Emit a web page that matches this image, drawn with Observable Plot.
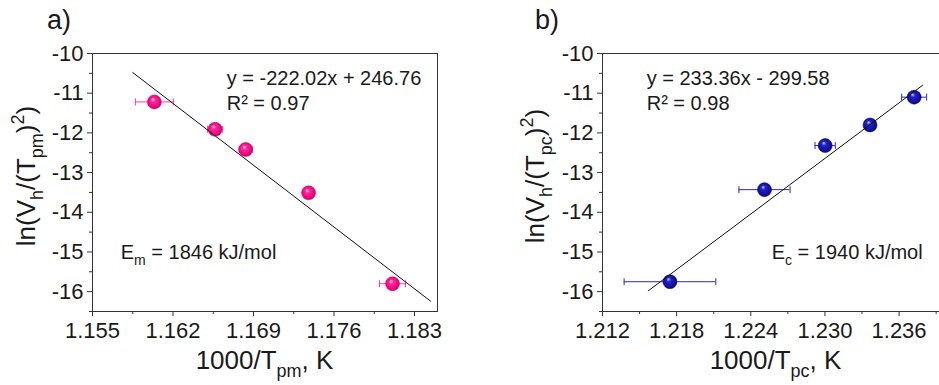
<!DOCTYPE html>
<html><head><meta charset="utf-8">
<script src="https://cdn.jsdelivr.net/npm/d3@7"></script>
<script src="https://cdn.jsdelivr.net/npm/@observablehq/plot@0.6"></script>
<style>
html,body{margin:0;padding:0;overflow:hidden;background:#fff;}
#wrap{display:flex;width:948px;height:385px;}
#wrap svg{display:block;flex:none;}
</style></head><body><div id="wrap"></div>
<script>
const FONT = "'Liberation Sans', Arial, Helvetica, sans-serif";

// ---- data ----
const yTicks = [-10, -11, -12, -13, -14, -15, -16];
const yMinor = [-10.5, -11.5, -12.5, -13.5, -14.5, -15.5, -16.5];

const xTicksA = [1.155, 1.162, 1.169, 1.176, 1.183];
const xMinorA = [1.1585, 1.1655, 1.1725, 1.1795];
const xA   = [1.16038, 1.16566, 1.16832, 1.17379, 1.18109];
const yA   = [-11.22, -11.91, -12.42, -13.51, -15.80];
const errA = [0.00165, 0.00066, 0.00056, 0.00030, 0.00113];
const fitXA = [1.1585, 1.1844];
const fitYA = [-10.48, -16.24];

const xTicksB = [1.212, 1.218, 1.224, 1.230, 1.236];
const xMinorB = [1.215, 1.221, 1.227, 1.233, 1.239];
const xB   = [1.21746, 1.22511, 1.23002, 1.23365, 1.23722];
const yB   = [-15.75, -13.43, -12.32, -11.80, -11.10];
const errB = [0.00371, 0.00207, 0.00082, 0.00040, 0.00101];
const fitXB = [1.2157, 1.2379];
const fitYB = [-15.98, -10.80];

const slopes = [-222.02, 233.36];
const intercepts = [246.76, -299.58];
const r2 = [0.97, 0.98];
const energies = [1846, 1940];
const panelLetters = ["a)", "b)"];
const energySubs = ["m", "c"];
const tempSubs = ["pm", "pc"];

// vertical cap symbol for error bars
const capSymbol = {
  draw(ctx, size) {
    const h = Math.sqrt(size / Math.PI);
    ctx.moveTo(0, -h); ctx.lineTo(0, h);
  }
};

function addText(svg, parts, {x, y, size, anchor = "start", rotate = 0, subSize, subShift, supShift}) {
  const t = svg.append("text")
    .attr("transform", `translate(${x},${y}) rotate(${rotate})`)
    .attr("text-anchor", anchor)
    .attr("font-family", FONT)
    .attr("font-size", size)
    .attr("fill", "#1a1a1a");
  let shift = 0;
  for (const [txt, kind] of parts) {
    const target = kind === "sub" ? subShift : kind === "sup" ? supShift : 0;
    const sp = t.append("tspan").text(txt).attr("dy", target - shift);
    if (kind) sp.attr("font-size", subSize);
    shift = target;
  }
}

function panel(cfg) {
  const pts = cfg.xs.map((x, i) => ({x, y: cfg.ys[i], e: cfg.errs[i]}));
  const caps = pts.flatMap(d => [{x: d.x - d.e, y: d.y}, {x: d.x + d.e, y: d.y}]);
  const fit = cfg.fitX.map((x, i) => ({x, y: cfg.fitY[i]}));
  const chart = Plot.plot({
    width: cfg.width, height: 385,
    marginLeft: cfg.mL, marginRight: cfg.mR, marginTop: 53, marginBottom: 74,
    x: {domain: cfg.xDomain},
    y: {domain: [-16.5, -10]},
    style: {fontFamily: FONT, fontSize: "22px", color: "#1a1a1a", background: "transparent", overflow: "visible"},
    marks: [
      Plot.axisX({ticks: cfg.minor, tickSize: 3, tickFormat: () => "", label: null, stroke: "#333"}),
      Plot.axisY({ticks: yMinor, tickSize: 3, tickFormat: () => "", label: null, stroke: "#333"}),
      Plot.axisX({ticks: cfg.ticks, tickSize: 5, tickPadding: 6, tickFormat: d => d.toFixed(3), label: null, stroke: "#333"}),
      Plot.axisY({ticks: yTicks, tickSize: 5, tickPadding: 4, tickFormat: d => String(d), label: null, stroke: "#333"}),
      Plot.frame({stroke: "#333", strokeWidth: 1}),
      Plot.ruleY(pts, {y: "y", x1: d => d.x - d.e, x2: d => d.x + d.e, stroke: cfg.bar, strokeWidth: 1}),
      Plot.dot(caps, {x: "x", y: "y", symbol: capSymbol, r: 3.5, stroke: cfg.bar, strokeWidth: 1, fill: "none"}),
      Plot.dot(pts, {x: "x", y: "y", r: 7, fill: `url(#${cfg.grad})`, stroke: cfg.edge, strokeWidth: 0.5}),
      Plot.line(fit, {x: "x", y: "y", stroke: "#111", strokeWidth: 1})
    ]
  });
  const svg = d3.select(chart);
  const g = svg.insert("defs", ":first-child").append("radialGradient")
    .attr("id", cfg.grad).attr("cx", "50%").attr("cy", "50%").attr("r", "55%")
    .attr("fx", "38%").attr("fy", "30%");
  cfg.stops.forEach(([o, c]) => g.append("stop").attr("offset", o).attr("stop-color", c));

  const i = cfg.idx;
  const b = intercepts[i];
  const eq = `y = ${slopes[i]}x ${b < 0 ? "-" : "+"} ${Math.abs(b)}`;
  addText(svg, [[panelLetters[i], ""]], {x: cfg.letterX, y: 29, size: 27});
  addText(svg, [[eq, ""]], {x: cfg.eqX, y: 85, size: 20});
  addText(svg, [[`R² = ${r2[i]}`, ""]], {x: cfg.eqX, y: 110, size: 20});
  addText(svg, [["E", ""], [energySubs[i], "sub"], [` = ${energies[i]} kJ/mol`, ""]],
    {x: cfg.eX, y: 259, size: 20, subSize: 14, subShift: 6});
  addText(svg, [["1000/T", ""], [tempSubs[i], "sub"], [", K", ""]],
    {x: cfg.xtX, y: 369, size: 26, anchor: "middle", subSize: 18, subShift: 8});
  addText(svg, [["ln(V", ""], ["h", "sub"], ["/(T", ""], [tempSubs[i], "sub"], [")", ""], ["2", "sup"], [")", ""]],
    {x: cfg.ytX, y: 176, size: 26, anchor: "middle", rotate: -90, subSize: 18, subShift: 8, supShift: -11});
  return chart;
}

const wrap = document.getElementById("wrap");
wrap.appendChild(panel({
  idx: 0, width: 470, mL: 92, mR: 33, xDomain: [1.155, 1.185],
  ticks: xTicksA, minor: xMinorA, xs: xA, ys: yA, errs: errA, fitX: fitXA, fitY: fitYA,
  bar: "#ff3fa0", edge: "#c0006a", grad: "gradA",
  stops: [["0%", "#ffe0f0"], ["28%", "#ff2a98"], ["75%", "#f0047f"], ["100%", "#b3005e"]],
  letterX: 47, eqX: 226.7, eX: 120.7, xtX: 264.5, ytX: 35
}));
wrap.appendChild(panel({
  idx: 1, width: 478, mL: 132, mR: 0, xDomain: [1.212, 1.240],
  ticks: xTicksB, minor: xMinorB, xs: xB, ys: yB, errs: errB, fitX: fitXB, fitY: fitYB,
  bar: "#2a2ab8", edge: "#000060", grad: "gradB",
  stops: [["0%", "#d0d0ff"], ["28%", "#2424c4"], ["75%", "#10109e"], ["100%", "#000066"]],
  letterX: 65, eqX: 176.7, eX: 301.7, xtX: 305.5, ytX: 74
}));
</script></body></html>
